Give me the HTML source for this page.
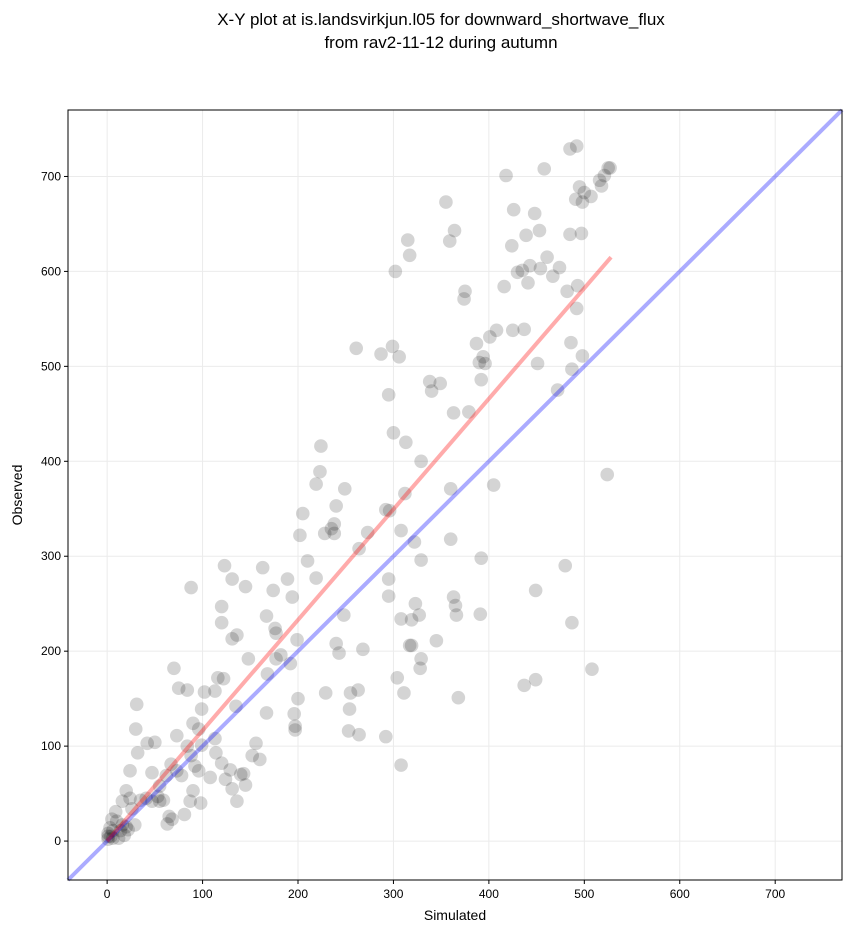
<!DOCTYPE html>
<html><head><meta charset="utf-8"><style>
body{margin:0;background:#fff;font-family:"Liberation Sans","DejaVu Sans",sans-serif}
</style></head><body>
<svg id="chart" width="851" height="934" xmlns="http://www.w3.org/2000/svg">
<text x="441" y="25" text-anchor="middle" font-size="17">X-Y plot at is.landsvirkjun.l05 for downward_shortwave_flux</text>
<text x="441" y="48" text-anchor="middle" font-size="17">from rav2-11-12 during autumn</text>
<g id="grid"></g><g id="pts"></g><g id="lines"></g>
<rect x="68" y="110" width="774" height="770" fill="none" stroke="#000" stroke-width="1"/>
<g id="ticks"></g>
<text x="455" y="920" text-anchor="middle" font-size="14">Simulated</text>
<text transform="translate(22,495) rotate(-90)" text-anchor="middle" font-size="14">Observed</text>
</svg>
<script>
const ticks=[0,100,200,300,400,500,600,700];
const fitSlope=615/528;const fitMax=528;
const sim=[525,527,492,485,458,418,355,364,315,359,302,317,375,374,521,516,518,495,500,507,498,491,426,448,453,439,424,485,497,461,454,443,430,435,467,474,482,493,416,441,408,425,437,401,387,394,390,396,392,486,492,451,498,487,472,261,287,299,306,295,300,313,329,338,340,349,363,379,360,312,405,292,296,308,322,329,273,264,238,235,238,240,249,224,223,219,205,210,202,189,163,228,219,524,480,487,508,449,437,449,391,392,360,363,365,366,345,368,327,323,295,295,308,319,317,319,304,329,328,311,308,292,263,255,254,253,264,229,240,243,248,268,194,145,131,136,131,120,120,123,88,174,176,177,182,177,192,199,200,196,197,197,148,167,168,167,160,156,152,135,143,140,145,136,131,129,124,120,114,122,116,113,113,108,99,96,99,102,90,84,75,70,73,31,30,32,42,50,24,84,88,92,96,98,87,90,81,78,73,67,62,55,53,59,63,65,68,41,35,47,47,55,24,16,20,26,29,16,10,6,4,1,3,9,5,14,20,1,6,12,18,22,1];
const obs=[709,709,732,729,708,701,673,643,633,632,600,617,579,571,701,696,690,689,683,679,673,676,665,661,643,638,627,639,640,615,603,606,599,601,595,604,579,585,584,588,538,538,539,531,524,510,504,503,486,525,561,503,511,497,475,519,513,521,510,470,430,420,400,484,474,482,451,452,371,366,375,349,348,327,315,296,325,308,324,329,334,353,371,416,389,376,345,295,322,276,288,324,277,386,290,230,181,170,164,264,239,298,318,257,248,238,211,151,238,250,276,258,234,233,206,206,172,192,182,156,80,110,159,156,139,116,112,156,208,198,238,202,257,268,276,217,213,230,247,290,267,264,224,219,196,192,187,212,150,134,121,117,192,237,176,135,86,103,90,142,71,70,59,42,55,75,65,82,93,171,172,158,108,67,101,118,139,157,124,159,161,182,111,144,118,93,103,104,74,100,90,79,74,40,42,53,28,69,74,81,69,58,47,43,18,26,23,45,43,42,72,42,45,42,53,34,17,17,21,11,5,2,14,31,23,11,15,8,3,3,6,12,5];
const L=68,R=842,T=110,B=880,mn=-41,mx=770;
const X=v=>L+(v-mn)/(mx-mn)*(R-L), Y=v=>B-(v-mn)/(mx-mn)*(B-T);
const NS="http://www.w3.org/2000/svg";
function mk(t,a,p){const e=document.createElementNS(NS,t);for(const k in a)e.setAttribute(k,a[k]);document.getElementById(p).appendChild(e);return e;}
ticks.forEach(t=>{
 let g=mk('line',{x1:X(t),x2:X(t),y1:T,y2:B,stroke:'#ebebeb','stroke-width':1},'grid');
 
 
 g=mk('line',{x1:L,x2:R,y1:Y(t),y2:Y(t),stroke:'#ebebeb','stroke-width':1},'grid');
 
 
 mk('line',{x1:X(t),x2:X(t),y1:B,y2:B+4,stroke:'#000'},'ticks');
 mk('line',{x1:L-4,x2:L,y1:Y(t),y2:Y(t),stroke:'#000'},'ticks');
 let a=mk('text',{x:X(t),y:B+18,'text-anchor':'middle','font-size':12},'ticks');a.textContent=t;
 
 
 a=mk('text',{x:L-7,y:Y(t)+4,'text-anchor':'end','font-size':12},'ticks');a.textContent=t;
 
 
});
sim.forEach((s,i)=>{const c=mk('circle',{cx:X(s),cy:Y(obs[i]),r:6.8,fill:'#000','fill-opacity':0.17},'pts');
 
 });
let l=mk('line',{x1:X(mn),y1:Y(mn),x2:X(mx),y2:Y(mx),stroke:'#00f','stroke-opacity':0.33,'stroke-width':4},'lines');


l=mk('line',{x1:X(0),y1:Y(0),x2:X(fitMax),y2:Y(fitMax*fitSlope),stroke:'#f00','stroke-opacity':0.33,'stroke-width':4},'lines');


</script>
</body></html>
